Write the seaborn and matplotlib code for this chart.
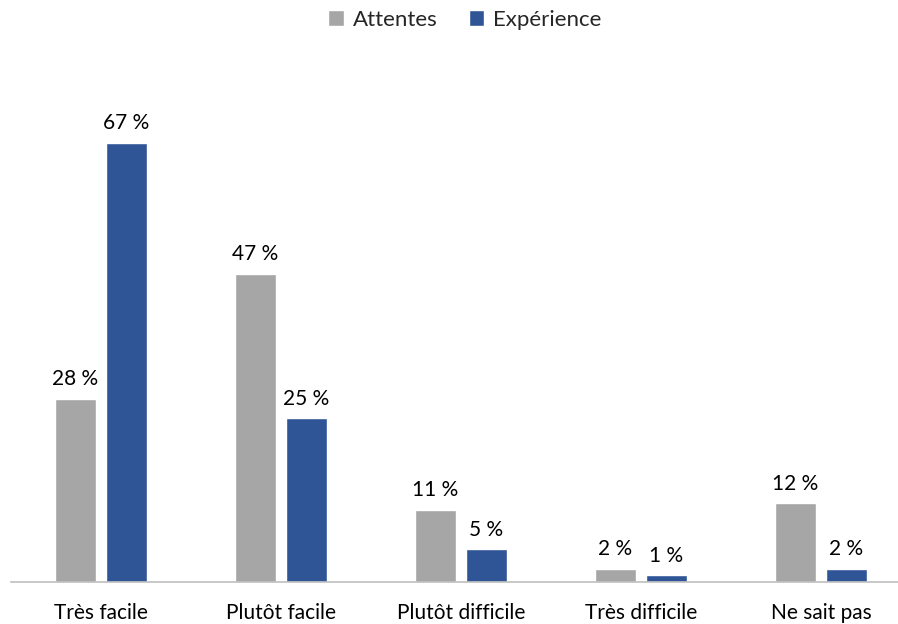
import pandas as pd
import seaborn as sns
import matplotlib.pyplot as plt
from matplotlib.ticker import FixedLocator

categories = ["Très facile", "Plutôt facile", "Plutôt difficile", "Très difficile", "Ne sait pas"]
attentes = [28, 47, 11, 2, 12]
experience = [67, 25, 5, 1, 2]
series = ["Attentes", "Expérience"]
colors = ["#A6A6A6", "#2F5597"]

df = pd.DataFrame({
    "categorie": categories * 2,
    "valeur": attentes + experience,
    "serie": [series[0]] * len(categories) + [series[1]] * len(categories),
})

sns.set_style("white")
plt.rcParams["font.family"] = ["Lato", "DejaVu Sans"]

fig = plt.figure(figsize=(8.98, 6.24), dpi=100)
# axes: baseline at y=582px, category band from x=11 to x=911
ax = fig.add_axes([11 / 898, 42 / 624, 900 / 898, 80 * 6.55 / 624])

sns.barplot(data=df, x="categorie", y="valeur", hue="serie", palette=colors,
            width=0.567, gap=0.2, ax=ax, saturation=1, legend=True)

for cont in ax.containers:
    ax.bar_label(cont, labels=[f"{v:.0f} %" for v in cont.datavalues],
                 padding=7, fontsize=15, color="black")

ax.set_ylim(0, 80)
ax.set_xlim(-0.5, len(categories) - 0.5)
ax.set_xlabel("")
ax.set_ylabel("")
ax.set_yticks([])
for s in ["top", "right", "left"]:
    ax.spines[s].set_visible(False)
ax.spines["bottom"].set_color("#BFBFBF")
ax.spines["bottom"].set_linewidth(1.2)

ax.tick_params(axis="x", which="major", length=0, labelsize=15, pad=15, labelcolor="black")
ax.xaxis.set_minor_locator(FixedLocator([i - 0.5 for i in range(len(categories) + 1)]))
ax.tick_params(axis="x", which="minor", length=7, color="#BFBFBF", width=1.2)

handles, labels = ax.get_legend_handles_labels()
ax.legend_.remove()
fig.legend(handles, labels, loc="center", bbox_to_anchor=(465 / 898, 1 - 20 / 624),
           ncol=2, frameon=False, fontsize=16, handlelength=0.7, handleheight=0.7,
           handletextpad=0.4, columnspacing=1.4)

fig.savefig("out.png", dpi=100)
